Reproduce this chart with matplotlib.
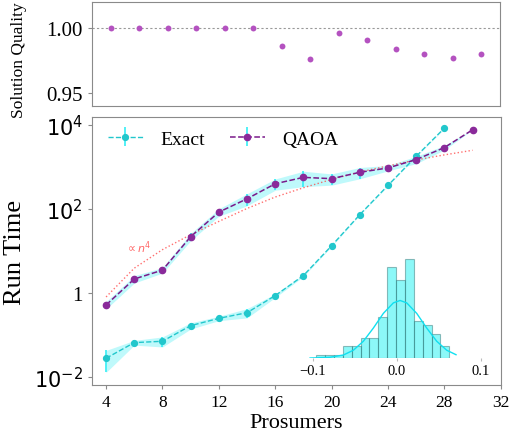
import numpy as np
import matplotlib
matplotlib.use("Agg")
import matplotlib.pyplot as plt
from matplotlib.ticker import FixedLocator, FixedFormatter, NullLocator

plt.rcParams['font.family'] = ['Liberation Serif', 'DejaVu Serif']
plt.rcParams['mathtext.fontset'] = 'dejavusans'

# ---------------- data ----------------
prosumers = [4, 6, 8, 10, 12, 14, 16, 18, 20, 22, 24, 26, 28, 30]
quality = [1.0, 1.0, 1.0, 1.0, 1.0, 1.0, 0.986, 0.976, 0.996, 0.991, 0.984, 0.980, 0.977, 0.980]

exact_x = [4, 6, 8, 10, 12, 14, 16, 18, 20, 22, 24, 26, 28]
exact_time = [0.0275, 0.065, 0.070, 0.165, 0.247, 0.337, 0.863, 2.6, 13.4, 74, 370, 1836, 8630]
exact_relerr = [0.54, 0.13, 0.27, 0.17, 0.12, 0.25, 0.10, 0.05, 0.03, 0.02, 0.02, 0.02, 0.02]

qaoa_x = [4, 6, 8, 10, 12, 14, 16, 18, 20, 22, 24, 26, 28, 30]
qaoa_time = [0.515, 2.15, 3.5, 22, 85, 177, 405, 575, 535, 760, 966, 1528, 2966, 7870]
qaoa_relerr = [0.2, 0.2, 0.15, 0.2, 0.2, 0.32, 0.3, 0.4, 0.3, 0.3, 0.15, 0.2, 0.12, 0.0]

fit_x = [4, 6, 8, 10, 12, 14, 16, 18, 20, 22, 24, 26, 28, 30]
fit_n4 = [0.80, 3.9, 10.8, 24.6, 51, 104, 195, 325, 513, 774, 1080, 1500, 1980, 2550]

hist_counts = [1, 1, 1, 3.9, 3.9, 6.7, 6.7, 13.7, 30.3, 26, 33, 12.2, 10.9, 8, 3.9]
hist_min, hist_max = -0.0964, 0.0623
curve_x = [-0.1036, -0.0917, -0.0798, -0.0639, -0.0520, -0.0401, -0.0282, -0.0163,
           -0.0044, 0.0036, 0.0115, 0.0234, 0.0353, 0.0472, 0.0591, 0.0702]
curve_y = [0.0, 0.1, 0.25, 1.0, 2.6, 5.6, 10.0, 14.9, 18.4, 19.2, 18.4, 14.9, 10.0, 5.6, 2.6, 1.1]

xticks_main = [4, 8, 12, 16, 20, 24, 28, 32]
yticks_main = [1e-2, 1, 1e2, 1e4]
ytick_labels = [r'$10^{-2}$', '1', r'$10^{2}$', r'$10^{4}$']

# ---------------- styles ----------------
CYAN = '#22c7cc'
CYAN_ERR = '#33eef5'
BAND = '#00e8f0'
PURPLE = '#7a1a8a'
DOT = '#b452c0'
SPINE = '#8a8a8a'

fig = plt.figure(figsize=(5.11, 4.35), dpi=100)

# ---------------- top panel ----------------
ax1 = fig.add_axes([0.180, 0.754, 0.798, 0.239])
ax1.scatter(prosumers, quality, s=18, color=DOT, zorder=3, linewidths=0)
ax1.axhline(1.0, color='#999999', lw=0.8, ls=(0, (2, 2)), zorder=1)
ax1.set_ylim(0.94, 1.02)
ax1.set_yticks([0.95, 1.00])
ax1.set_yticklabels(['0.95', '1.00'])
ax1.set_xticks([])
ax1.tick_params(axis='y', labelsize=15, color=SPINE, length=3)
ax1.set_ylabel('Solution Quality', fontsize=12.5)
ax1.yaxis.set_label_coords(-0.16, 0.45)
for sp in ax1.spines.values():
    sp.set_color(SPINE)

# ---------------- main panel ----------------
ax = fig.add_axes([0.180, 0.1126, 0.800, 0.616])
ax.set_yscale('log')

ex = np.array(exact_time)
er = np.array(exact_relerr) * ex
qa = np.array(qaoa_time)
qr = np.array(qaoa_relerr) * qa

ax.fill_between(exact_x, ex - er, ex + er, color=BAND, alpha=0.25, lw=0, zorder=1)
ax.fill_between(qaoa_x, qa - qr, qa + qr, color=BAND, alpha=0.25, lw=0, zorder=1)

ax.errorbar(exact_x, ex, yerr=er, color=CYAN, ecolor=CYAN_ERR, elinewidth=1.2,
            ls='--', lw=1.0, marker='o', ms=4.2, capsize=0, label='Exact', zorder=3)
ax.errorbar(qaoa_x, qa, yerr=qr, color=PURPLE, ecolor=CYAN_ERR, elinewidth=1.2,
            ls='--', lw=1.1, marker='o', ms=4.5, capsize=0, label='QAOA', zorder=4,
            mfc='#8a2a9a', mec='#8a2a9a')

ax.plot(fit_x, fit_n4, color='#ff4040', alpha=0.75, ls=':', lw=1.0, zorder=2)
ax.text(6.3, 13, r'$\propto n^4$', color='#ff4040', alpha=0.8, fontsize=8,
        ha='center', va='center')

ax.set_xlim(3, 32)
ax.set_ylim(10 ** -2.2, 10 ** 4.2)
ax.xaxis.set_major_locator(FixedLocator(xticks_main))
ax.yaxis.set_major_locator(FixedLocator(yticks_main))
ax.yaxis.set_major_formatter(FixedFormatter(ytick_labels))
ax.yaxis.set_minor_locator(NullLocator())
ax.tick_params(axis='x', labelsize=12.5, color=SPINE, length=3)
ax.tick_params(axis='y', labelsize=15, color=SPINE, length=3)
ax.set_xlabel('Prosumers', fontsize=16, labelpad=2)
ax.set_ylabel('Run Time', fontsize=19)
ax.yaxis.set_label_coords(-0.162, 0.5)
for sp in ax.spines.values():
    sp.set_color(SPINE)

leg = ax.legend(loc='upper left', ncol=2, frameon=False, fontsize=14,
                handlelength=1.8, handletextpad=0.9, columnspacing=1.3,
                bbox_to_anchor=(0.0, 1.01), borderaxespad=0.4)

# ---------------- inset histogram ----------------
axi = fig.add_axes([0.588, 0.1747, 0.3616, 0.239])
edges = np.linspace(hist_min, hist_max, len(hist_counts) + 1)
axi.bar(edges[:-1], hist_counts, width=np.diff(edges), align='edge',
        color='#00f0f0', alpha=0.45, edgecolor='#2a6a6a', linewidth=0.8)
axi.plot(curve_x, curve_y, color='#10e0f0', lw=1.0)
axi.set_xlim(-0.115, 0.105)
axi.set_ylim(0, 34.7)
axi.set_yticks([])
axi.set_xticks([-0.1, 0.0, 0.1])
axi.set_xticklabels(['\u22120.1', '0.0', '0.1'])
axi.tick_params(axis='x', labelsize=10.5, color='#bbbbbb', length=2, pad=2)
for sp in axi.spines.values():
    sp.set_visible(False)
axi.patch.set_alpha(0)

fig.savefig('out.png', dpi=100)
